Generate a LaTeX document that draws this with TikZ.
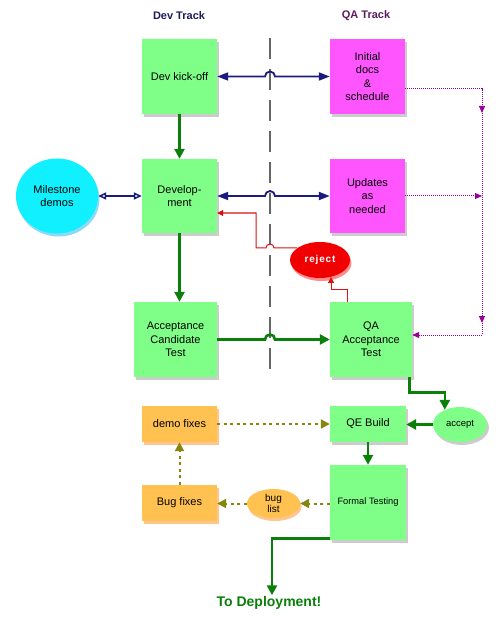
\documentclass[tikz,border=0pt]{standalone}
\usepackage{fontspec}
\setmainfont{Liberation Sans}
\usetikzlibrary{arrows.meta,shadows,calc,shapes.geometric}
\definecolor{boxgreen}{HTML}{80FF88}
\definecolor{boxmag}{HTML}{FF55FF}
\definecolor{boxcyan}{HTML}{11F0FF}
\definecolor{boxorange}{HTML}{FFC250}
\definecolor{navyc}{HTML}{1A1A80}
\definecolor{darkg}{HTML}{0A7F0A}
\definecolor{purpc}{HTML}{990099}
\definecolor{olivec}{HTML}{858510}
\definecolor{redc}{HTML}{F00000}
\definecolor{redline}{HTML}{DD1010}
\definecolor{devtc}{HTML}{1C1C5C}
\definecolor{qatc}{HTML}{5C1C5C}
\definecolor{sepc}{HTML}{666666}
\begin{document}
\begin{tikzpicture}[x=1pt,y=-1pt,
  base/.style={font=\fontsize{11}{13.5}\selectfont, align=center, inner sep=0pt},
  sq/.style={base, rectangle, minimum width=75pt, minimum height=75pt,
    drop shadow={opacity=0.4, shadow xshift=2pt, shadow yshift=-3pt}},
  cshadow/.style={drop shadow={fill=#1, opacity=0.45, shadow xshift=1.5pt, shadow yshift=-3pt}},
  obox/.style={base, rectangle, fill=boxorange, minimum width=75pt, minimum height=36pt, cshadow=orange},
  title/.style={font=\bfseries\fontsize{11}{13}\selectfont, inner sep=0pt},
  navyline/.style={draw=navyc, line width=1.8pt, {Triangle[length=11pt,width=8pt]}-{Triangle[length=11pt,width=8pt]}},
  openline/.style={draw=navyc, line width=1.5pt, {Triangle[open,length=8pt,width=7pt,fill=white]}-{Triangle[open,length=8pt,width=7pt,fill=white]}},
  gline/.style={draw=darkg, line width=2.6pt, -{Triangle[length=10pt,width=10pt]}},
  rline/.style={draw=redline, line width=1pt, -{Triangle[length=6pt,width=6pt]}},
  pline/.style={draw=purpc, line width=1pt, densely dotted, -{Triangle[length=7pt,width=6pt]}},
  oline/.style={draw=olivec, line width=2pt, dash pattern=on 3pt off 3.5pt, -{Triangle[length=9pt,width=9pt]}},
  sepline/.style={draw=sepc, line width=2.2pt, dash pattern=on 21pt off 10pt}
]
\fill[white] (0,0) rectangle (502,620);
\useasboundingbox (0,0) rectangle (502,620);

% titles
\node[title, text=devtc] (devt) at (179,16) {Dev Track};
\node[title, text=qatc] (qat) at (366,16) {QA Track};

% separator
\coordinate (sep) at (270,0);
\coordinate (septop) at (270,38);
\coordinate (sepbot) at (270,375);
\draw[sepline] (septop) -- (sepbot);

% nodes
\node[sq, fill=boxgreen] (kick) at (179.5,76.5) {Dev kick-off};
\node[sq, fill=boxmag] (init) at (367.5,76.5) {Initial\\docs\\\&\\schedule};
\node[sq, fill=boxgreen, minimum height=74pt] (dev) at (179.5,196) {Develop-\\ment};
\node[sq, fill=boxmag, minimum height=74pt] (upd) at (367.5,196) {Updates\\as\\needed};
\node[base, ellipse, fill=boxcyan, minimum width=82pt, minimum height=75pt, cshadow=cyan] (mile) at (57,196) {Milestone\\demos};
\node[ellipse, fill=redc, minimum width=60pt, minimum height=36pt, inner sep=0pt, text=white,
  font=\bfseries\fontsize{10}{12}\selectfont, cshadow=red] (rej) at (320,260) {\addfontfeature{LetterSpace=8}reject};
\node[sq, fill=boxgreen, minimum width=83pt] (act) at (175.5,339.5) {Acceptance\\Candidate\\Test};
\node[sq, fill=boxgreen, minimum width=82pt] (qa) at (371,339.5) {QA\\Acceptance\\Test};
\node[base, ellipse, fill=boxgreen, minimum width=54pt, minimum height=35pt,
  font=\fontsize{9.5}{11}\selectfont, drop shadow={opacity=0.4, shadow xshift=2pt, shadow yshift=-3pt}] (acc) at (460,424.5) {accept};
\node[sq, fill=boxgreen, minimum width=76pt, minimum height=36pt] (qe) at (368,424) {QE Build};
\node[sq, fill=boxgreen, minimum width=76pt, font=\fontsize{9.3}{11}\selectfont] (ft) at (368,502.5) {Formal Testing};
\node[base, ellipse, fill=boxorange, minimum width=53pt, minimum height=29pt,
  font=\fontsize{10}{11}\selectfont, cshadow=orange] (bl) at (273.5,503.5) {bug\\list};
\node[obox] (bf) at (179.5,503) {Bug fixes};
\node[obox] (df) at (179.5,424) {demo fixes};
\node[font=\bfseries\fontsize{14}{16}\selectfont, text=darkg, inner sep=1pt] (dep) at (269,603) {To Deployment!};

% navy connectors with hops
\draw[navyline] (kick.east) -- ($(sep |- kick.east)+(-5,0)$) arc[start angle=180, end angle=0, radius=5pt] -- (init.west);
\draw[navyline] (dev.east) -- ($(sep |- dev.east)+(-5,0)$) arc[start angle=180, end angle=0, radius=5pt] -- (upd.west);
\draw[openline] (mile.east) -- (dev.west);

% green flow
\draw[gline] (kick.south) -- (dev.north);
\draw[gline] (dev.south) -- (dev.south |- act.north);
\draw[gline] (act.east) -- ($(sep |- act.east)+(-5,0)$) arc[start angle=180, end angle=0, radius=5pt] -- (qa.west);
\draw[gline] ([xshift=-3pt]qa.south east) -- ++(0,15) -| (acc.136);
\draw[gline] (acc.west) -- (acc.west -| qe.east);
\draw[gline] (qe.south) -- (ft.north);
\draw[gline] ([yshift=2pt]ft.south west) -| ([xshift=3pt]dep.north);

% reject loop
\coordinate (rk) at (256,213);
\draw[rline] ([xshift=-24pt]qa.north) -- ++(0,-12) -| (rej.-57);
\draw[rline] (rej.152) -- ($(sep |- rej.152)+(4,0)$) arc[start angle=0, end angle=180, radius=4pt] -- (rk |- rej.152) -- (rk) -- (rk -| dev.east);

% purple dotted feedback
\coordinate (p1) at (482,89);
\coordinate (p2) at (482,113);
\coordinate (p3) at (482,323);
\coordinate (p4) at (482,335);
\draw[pline] ([yshift=-12.5pt]init.east) -- (p1) -- (p2);
\draw[pline] (p2) -- (p3);
\draw[pline] (p3) -- (p4) -- (p4 -| qa.east);
\draw[pline] (upd.east) -- (upd.east -| p1);

% olive dotted bug loop
\draw[oline] (ft.west |- bl.east) -- (bl.east);
\draw[oline] (bl.west) -- (bl.west -| bf.east);
\draw[oline] (bf.north) -- (df.south);
\draw[oline] (df.east) -- (qe.west);
\end{tikzpicture}
\end{document}
